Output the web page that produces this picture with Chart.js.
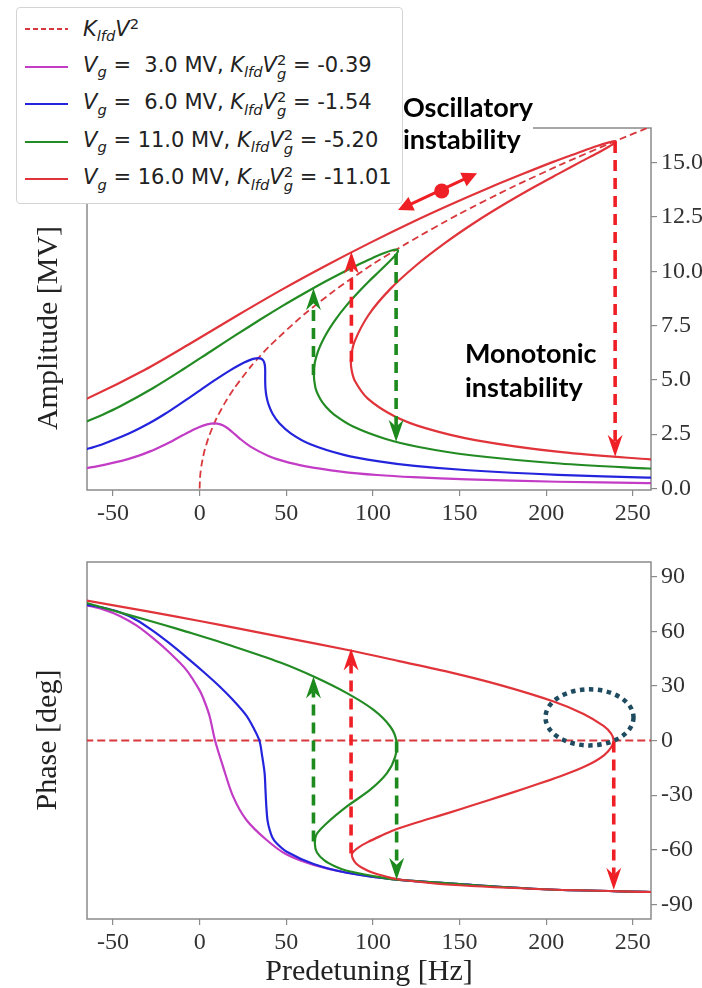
<!DOCTYPE html>
<html><head><meta charset="utf-8">
<script src="https://cdn.jsdelivr.net/npm/chart.js@4.4.1/dist/chart.umd.min.js"></script>
<style>
html,body{margin:0;padding:0;background:#fff;}
body{width:702px;height:988px;position:relative;overflow:hidden;}
canvas{position:absolute;left:0;}
#c1{top:0;} #c2{top:530px;}
.ytitle{position:absolute;font:30px 'Liberation Serif';color:#222;white-space:nowrap;transform:translate(-50%,-50%) rotate(-90deg);}
#legend{position:absolute;left:16px;top:7px;width:385px;height:195px;border:1px solid #d4d4d4;border-radius:4px;background:#fff;font-family:'DejaVu Sans';font-size:21px;color:#222;}
#legend .row{position:absolute;left:0;height:30px;display:flex;align-items:center;white-space:nowrap;}
#legend svg{margin-left:8px;margin-right:15px;flex:none;}
.sb{font-size:0.7em;position:relative;top:0.35em;}
.sp{font-size:0.7em;position:relative;top:-0.5em;}
.ss{display:inline-block;vertical-align:-0.45em;font-size:0.7em;line-height:0.95;}
.ss span{display:block;}
.anno{position:absolute;font-family:Lato;font-weight:bold;font-size:27px;color:#000;white-space:nowrap;}
#osc{left:403px;top:91px;width:130px;line-height:32px;background:#fff;}
#mono{left:465px;top:336px;line-height:34px;}
</style></head>
<body>
<canvas id="c1" width="702" height="530" style="width:702px;height:530px"></canvas>
<canvas id="c2" width="702" height="458" style="width:702px;height:458px"></canvas>
<div class="ytitle" style="left:47px;top:328px">Amplitude [MV]</div>
<div class="ytitle" style="left:46px;top:740px">Phase [deg]</div>
<div id="legend"></div>
<div id="osc" class="anno">Oscillatory<br>instability</div>
<div id="mono" class="anno">Monotonic<br>instability</div>
<script>
// ---------- data ----------
const vgValues = [3.0, 6.0, 11.0, 16.0];
const kVg2Values = [-0.39, -1.54, -5.20, -11.01];

const xTicks = [-50, 0, 50, 100, 150, 200, 250];
const xTickLabels = ['-50', '0', '50', '100', '150', '200', '250'];
const ampTicks = [0, 2.5, 5, 7.5, 10, 12.5, 15];
const ampTickLabels = ['0.0', '2.5', '5.0', '7.5', '10.0', '12.5', '15.0'];
const phaseTicks = [-90, -60, -30, 0, 30, 60, 90];
const phaseTickLabels = ['-90', '-60', '-30', '0', '30', '60', '90'];

// amplitude curves
const magAmpX = [-65.98, -58.63, -45.03, -35.48, -28.21, -22.37, -17.48, -13.26, -9.53, -6.20, -0.45, 4.36, 8.44, 12.02, 15.35, 18.86, 23.16, 29.35, 39.70, 48.05, 60.61, 81.56, 102.45, 123.32, 154.56, 206.55, 258.5, 266];
const magAmpY = [0.93, 1.03, 1.27, 1.50, 1.72, 1.93, 2.12, 2.30, 2.46, 2.60, 2.82, 2.95, 3.00, 2.95, 2.82, 2.60, 2.30, 1.93, 1.50, 1.27, 1.03, 0.78, 0.62, 0.52, 0.42, 0.31, 0.25, 0.24];
const blueAmpX = [-68.09, -63.57, -55.67, -40.51, -29.15, -19.89, -11.91, -4.82, 1.59, 7.46, 12.78, 17.60, 21.90, 25.68, 28.90, 31.59, 33.75, 35.39, 36.56, 37.30, 37.70, 37.84, 37.84, 37.84, 38.01, 38.58, 39.81, 42.09, 46.03, 52.57, 63.57, 83.25, 103.55, 124.09, 155.05, 206.83, 258.6, 266];
const blueAmpY = [1.75, 1.85, 2.05, 2.54, 3.00, 3.44, 3.86, 4.24, 4.60, 4.92, 5.20, 5.44, 5.64, 5.80, 5.91, 5.98, 6.00, 5.98, 5.91, 5.80, 5.64, 5.44, 5.20, 4.92, 4.60, 4.24, 3.86, 3.44, 3.00, 2.54, 2.05, 1.55, 1.25, 1.04, 0.84, 0.63, 0.50, 0.49];
const greenAmpX = [-67.06, -55.96, -46.35, -26.28, -9.23, 6.33, 21.01, 35.02, 48.36, 60.93, 72.55, 83.06, 92.27, 100.03, 106.18, 110.68, 113.44, 114.48, 113.84, 111.65, 108.07, 103.30, 97.61, 91.31, 84.78, 78.42, 72.73, 68.31, 65.95, 66.80, 69.63, 72.89, 77.62, 88.59, 106.99, 126.50, 156.60, 207.70, 259.2, 266];
const greenAmpY = [3.03, 3.40, 3.76, 4.65, 5.50, 6.31, 7.07, 7.78, 8.43, 9.01, 9.53, 9.97, 10.34, 10.62, 10.83, 10.96, 11.00, 10.96, 10.83, 10.62, 10.34, 9.97, 9.53, 9.01, 8.43, 7.78, 7.07, 6.31, 5.50, 4.65, 4.12, 3.76, 3.40, 2.85, 2.29, 1.91, 1.53, 1.15, 0.92, 0.90];
const redAmpX = [-81.85, -64.91, -31.54, -3.68, 22.41, 47.97, 73.31, 98.30, 122.62, 145.85, 167.47, 187.02, 204.02, 218.11, 228.92, 236.28, 240.00, 240.08, 236.58, 229.73, 219.82, 207.26, 192.53, 176.23, 159.04, 141.70, 125.03, 109.95, 97.59, 89.40, 87.38, 87.70, 89.71, 97.07, 112.46, 130.32, 159.06, 209.08, 260.1, 266];
const redAmpY = [3.60, 4.14, 5.47, 6.76, 8.00, 9.18, 10.28, 11.31, 12.26, 13.11, 13.86, 14.50, 15.04, 15.45, 15.76, 15.94, 16.00, 15.94, 15.76, 15.45, 15.04, 14.50, 13.86, 13.11, 12.26, 11.31, 10.28, 9.18, 8.00, 6.76, 5.99, 5.47, 4.94, 4.14, 3.33, 2.78, 2.23, 1.67, 1.34, 1.32];
const backboneX = [0, 0.2, 0.5, 1, 2, 3, 5, 7.5, 10, 15, 20, 30, 40, 60, 80, 100, 120, 150, 180, 210, 240, 262];
const backboneY = [0, 0.46, 0.73, 1.03, 1.46, 1.79, 2.31, 2.83, 3.27, 4.00, 4.62, 5.66, 6.53, 8.00, 9.24, 10.33, 11.31, 12.65, 13.86, 14.97, 16.00, 16.72];

// phase curves
const magPhaseX = [-66, -55.7, -46.1, -36.5, -26.9, -17.3, -7.7, 0, 3, 5.8, 8.9, 13.5, 19.3, 26.9, 38.5, 50, 65.8, 85, 113.9, 162, 202, 262];
const magPhaseY = [74.4, 72.0, 68.4, 63.2, 56.2, 48.2, 38.8, 27.5, 21.0, 13.2, 0, -14.3, -30.7, -43.5, -54.5, -62.5, -68.3, -72.6, -76.4, -79.6, -81.8, -83.2];
const bluePhaseX = [-66, -56, -46.1, -36.5, -26.9, -17.3, -7.7, 2, 11.4, 19, 26.9, 31.0, 34.5, 36.0, 37.5, 38.0, 38.5, 39.2, 40.4, 42.0, 44.3, 50, 65.8, 85, 113.9, 162, 202, 262];
const bluePhaseY = [74.6, 73.0, 70.4, 66.2, 60.2, 53.3, 45.8, 37.9, 29.8, 22.5, 13.8, 7.1, 0, -8.0, -17.9, -27.0, -36.2, -44.0, -49.0, -53.2, -56.3, -60.9, -67.8, -72.6, -76.4, -79.6, -81.8, -83.2];
const greenPhaseX = [-66, -40, -20, -7.7, 20, 46.6, 65.8, 85, 100.4, 110, 113.5, 112.9, 108.1, 98.5, 85, 73.5, 67.5, 66.5, 67.7, 72, 78, 85, 100, 113.9, 162, 202, 262];
const greenPhaseY = [75.7, 68.7, 63.3, 59.8, 51.5, 42.8, 35.1, 26.0, 16.8, 7.7, 0, -8.8, -17.9, -27.0, -36.2, -45.3, -51.5, -56.5, -61.5, -65.8, -69.0, -71.5, -74.4, -76.4, -79.6, -81.8, -83.2];
const redPhaseX = [-66, -30, 0, 25, 50, 87, 115, 144.7, 173.6, 204.3, 221.6, 233.1, 237.5, 238.9, 237.3, 233.5, 228, 221.6, 212, 202.4, 188, 173.6, 158, 142.8, 123.5, 112, 104.3, 97, 92, 89, 87.9, 88.4, 90.3, 94, 100, 108, 115, 144.7, 202.4, 262];
const redPhaseY = [76.9, 70.9, 65.6, 61.0, 56.3, 49.4, 43.6, 37.4, 30.4, 21.4, 14.6, 8.0, 3.8, 0, -4.0, -8.0, -11.5, -14.5, -18.3, -21.6, -26.2, -30.7, -35.4, -40.0, -45.6, -49.3, -52.5, -55.8, -58.5, -60.8, -62.5, -64.8, -67.5, -70.0, -72.6, -74.8, -76.3, -79.2, -81.8, -83.2];
const zeroLineX = [-66, 262];
const zeroLineY = [0, 0];

// jump arrows (x, from, to)
const ampArrowX = [65.7, 87.6, 113.4, 239.8];
const ampArrowFrom = [5.23, 5.84, 10.8, 15.95];
const ampArrowTo = [9.22, 10.9, 2.15, 1.46];
const phaseArrowX = [65.7, 87.4, 113.7, 239.0];
const phaseArrowFrom = [-55.5, -62.0, -0.5, -0.5];
const phaseArrowTo = [35.1, 50.5, -76.4, -82.0];

// oscillatory double arrow and circled region
const oscArrowX = [114.5, 160.1];
const oscArrowY = [12.82, 14.52];
const oscDotX = [139.7];
const oscDotY = [13.7];
const circleX = [225];
const circleY = [12.7];
const circleRX = [25.4];
const circleRY = [15.4];

// ---------- styles ----------
const C_MAG = '#c23cc6', C_BLUE = '#2424dc', C_GREEN = '#238b23', C_RED = '#e0343a', C_DASH = '#d8383c';
const A_RED = '#ee1f25', A_GREEN = '#1c8a1c';
const arrowColors = [A_GREEN, A_RED, A_GREEN, A_RED];
const seriesColors = [C_MAG, C_BLUE, C_GREEN, C_RED];

const pts = (xs, ys) => xs.map((x, i) => ({x: x, y: ys[i]}));

function line(label, xs, ys, color, opt) {
  return Object.assign({label: label, data: pts(xs, ys), showLine: true, borderColor: color,
    backgroundColor: color, borderWidth: 2.2, pointRadius: 0, tension: 0.3, fill: false}, opt || {});
}

function drawDashArrow(ctx, xs, ys, x, y0, y1, color) {
  const px = xs.getPixelForValue(x);
  const p0 = ys.getPixelForValue(y0);
  const p1 = ys.getPixelForValue(y1);
  const dir = p1 > p0 ? 1 : -1;
  const headLen = 22, headW = 7.5, notch = 15;
  ctx.save();
  ctx.strokeStyle = color; ctx.lineWidth = 3.6; ctx.setLineDash([11, 7]);
  ctx.beginPath(); ctx.moveTo(px, p0); ctx.lineTo(px, p1 - dir * notch); ctx.stroke();
  ctx.setLineDash([]);
  ctx.fillStyle = color;
  ctx.beginPath();
  ctx.moveTo(px, p1);
  ctx.lineTo(px - headW, p1 - dir * headLen);
  ctx.lineTo(px, p1 - dir * notch);
  ctx.lineTo(px + headW, p1 - dir * headLen);
  ctx.closePath(); ctx.fill();
  ctx.restore();
}

function head(ctx, x, y, ux, uy, len, w) {
  ctx.beginPath();
  ctx.moveTo(x, y);
  ctx.lineTo(x - ux * len - uy * w, y - uy * len + ux * w);
  ctx.lineTo(x - ux * len + uy * w, y - uy * len - ux * w);
  ctx.closePath(); ctx.fill();
}

function makeAnnot(cfg) {
  return {
    id: 'annot',
    beforeDatasetsDraw(chart) {
      const {ctx, chartArea: a} = chart;
      ctx.save(); ctx.strokeStyle = '#8a8a8a'; ctx.lineWidth = 1.5;
      ctx.strokeRect(a.left, a.top, a.right - a.left, a.bottom - a.top);
      ctx.restore();
    },
    afterDatasetsDraw(chart) {
      const ctx = chart.ctx, xs = chart.scales.x, ys = chart.scales.y;
      cfg.arrowX.forEach((x, i) => drawDashArrow(ctx, xs, ys, x, cfg.from[i], cfg.to[i], arrowColors[i]));
      if (cfg.osc) {
        const x0 = xs.getPixelForValue(oscArrowX[0]), y0 = ys.getPixelForValue(oscArrowY[0]);
        const x1 = xs.getPixelForValue(oscArrowX[1]), y1 = ys.getPixelForValue(oscArrowY[1]);
        const L = Math.hypot(x1 - x0, y1 - y0), ux = (x1 - x0) / L, uy = (y1 - y0) / L;
        ctx.save();
        ctx.strokeStyle = A_RED; ctx.fillStyle = A_RED; ctx.lineWidth = 3;
        ctx.beginPath(); ctx.moveTo(x0 + ux * 10, y0 + uy * 10); ctx.lineTo(x1 - ux * 10, y1 - uy * 10); ctx.stroke();
        head(ctx, x1, y1, ux, uy, 15, 7.5);
        head(ctx, x0, y0, -ux, -uy, 15, 7.5);
        ctx.beginPath();
        ctx.arc(xs.getPixelForValue(oscDotX[0]), ys.getPixelForValue(oscDotY[0]), 7.5, 0, Math.PI * 2);
        ctx.fill();
        ctx.restore();
      }
      if (cfg.circle) {
        const cx = xs.getPixelForValue(circleX[0]), cy = ys.getPixelForValue(circleY[0]);
        const rx = Math.abs(xs.getPixelForValue(circleX[0] + circleRX[0]) - cx);
        const ry = Math.abs(ys.getPixelForValue(circleY[0] + circleRY[0]) - cy);
        ctx.save();
        ctx.strokeStyle = '#1e4b5f'; ctx.lineWidth = 4.5; ctx.setLineDash([4.5, 4.5]);
        ctx.beginPath(); ctx.ellipse(cx, cy, rx, ry, 0, 0, Math.PI * 2); ctx.stroke();
        ctx.restore();
      }
    }
  };
}

const tickFont = {family: "'Liberation Serif'", size: 24};
function xScale(height, title) {
  const s = {
    type: 'linear', position: 'bottom', min: -65, max: 260.5,
    afterBuildTicks: sc => { sc.ticks = xTicks.map(v => ({value: v})); },
    ticks: {callback: (v, i) => xTickLabels[i], font: tickFont, color: '#333', padding: 3, maxRotation: 0, autoSkip: false},
    grid: {drawOnChartArea: false, drawTicks: true, tickLength: 6, color: '#8a8a8a', lineWidth: 1.2},
    border: {display: false},
    afterFit: sc => { sc.height = height; }
  };
  if (title) s.title = {display: true, text: title, font: {family: "'Liberation Serif'", size: 30, lineHeight: 1}, color: '#222', padding: {top: 0, bottom: 1}};
  return s;
}
function yScale(min, max, ticks, labels) {
  return {
    type: 'linear', position: 'right', min: min, max: max,
    afterBuildTicks: sc => { sc.ticks = ticks.map(v => ({value: v})); },
    ticks: {callback: (v, i) => labels[i], font: tickFont, color: '#333', padding: 4, autoSkip: false},
    grid: {drawOnChartArea: false, drawTicks: true, tickLength: 6, color: '#8a8a8a', lineWidth: 1.2},
    border: {display: false},
    afterFit: sc => { sc.width = 51; }
  };
}

const common = {responsive: false, maintainAspectRatio: false, animation: false, events: [],
  plugins: {legend: {display: false}, tooltip: {enabled: false}}};

new Chart(document.getElementById('c1'), {
  type: 'scatter',
  data: {datasets: [
    line('Vg=16', redAmpX, redAmpY, C_RED),
    line('Vg=11', greenAmpX, greenAmpY, C_GREEN),
    line('Vg=6', blueAmpX, blueAmpY, C_BLUE),
    line('Vg=3', magAmpX, magAmpY, C_MAG),
    line('KV2', backboneX, backboneY, C_DASH, {borderDash: [7, 4], borderWidth: 1.8, tension: 0.2})
  ]},
  options: Object.assign({}, common, {
    layout: {padding: {left: 87, top: 128, right: 0, bottom: 0}},
    scales: {x: xScale(40), y: yScale(-0.07, 16.6, ampTicks, ampTickLabels)}
  }),
  plugins: [makeAnnot({arrowX: ampArrowX, from: ampArrowFrom, to: ampArrowTo, osc: true})]
});

new Chart(document.getElementById('c2'), {
  type: 'scatter',
  data: {datasets: [
    line('Vg=16', redPhaseX, redPhaseY, C_RED),
    line('Vg=11', greenPhaseX, greenPhaseY, C_GREEN),
    line('Vg=6', bluePhaseX, bluePhaseY, C_BLUE),
    line('Vg=3', magPhaseX, magPhaseY, C_MAG),
    line('zero', zeroLineX, zeroLineY, C_DASH, {borderDash: [8, 4], borderWidth: 2, tension: 0})
  ]},
  options: Object.assign({}, common, {
    layout: {padding: {left: 87, top: 32, right: 0, bottom: 0}},
    scales: {x: xScale(69, 'Predetuning [Hz]'), y: yScale(-98, 98, phaseTicks, phaseTickLabels)}
  }),
  plugins: [makeAnnot({arrowX: phaseArrowX, from: phaseArrowFrom, to: phaseArrowTo, circle: true})]
});

// ---------- legend ----------
const K = '<i>K</i><span class="sb"><i>lfd</i></span>';
const legendRows = [{color: C_DASH, dash: true, html: K + '<i>V</i><span class="sp">2</span>'}];
vgValues.forEach((vg, i) => {
  const pad = vg < 10 ? '&nbsp;' : '';
  legendRows.push({color: seriesColors[i], dash: false,
    html: '<i>V</i><span class="sb"><i>g</i></span> = ' + pad + vg.toFixed(1) + ' MV, ' + K +
      '<i>V</i><span class="ss"><span>2</span><span><i>g</i></span></span> = ' + kVg2Values[i].toFixed(2)});
});
const lg = document.getElementById('legend');
const rowCenters = [21, 58.5, 96, 133.5, 171];
legendRows.forEach((r, i) => {
  const d = document.createElement('div');
  d.className = 'row';
  d.style.top = (rowCenters[i] - 15) + 'px';
  d.innerHTML = '<svg width="43" height="6"><line x1="0" y1="3" x2="43" y2="3" stroke="' + r.color +
    '" stroke-width="2"' + (r.dash ? ' stroke-dasharray="5,3"' : '') + '/></svg><span>' + r.html + '</span>';
  lg.appendChild(d);
});
</script>
</body></html>
